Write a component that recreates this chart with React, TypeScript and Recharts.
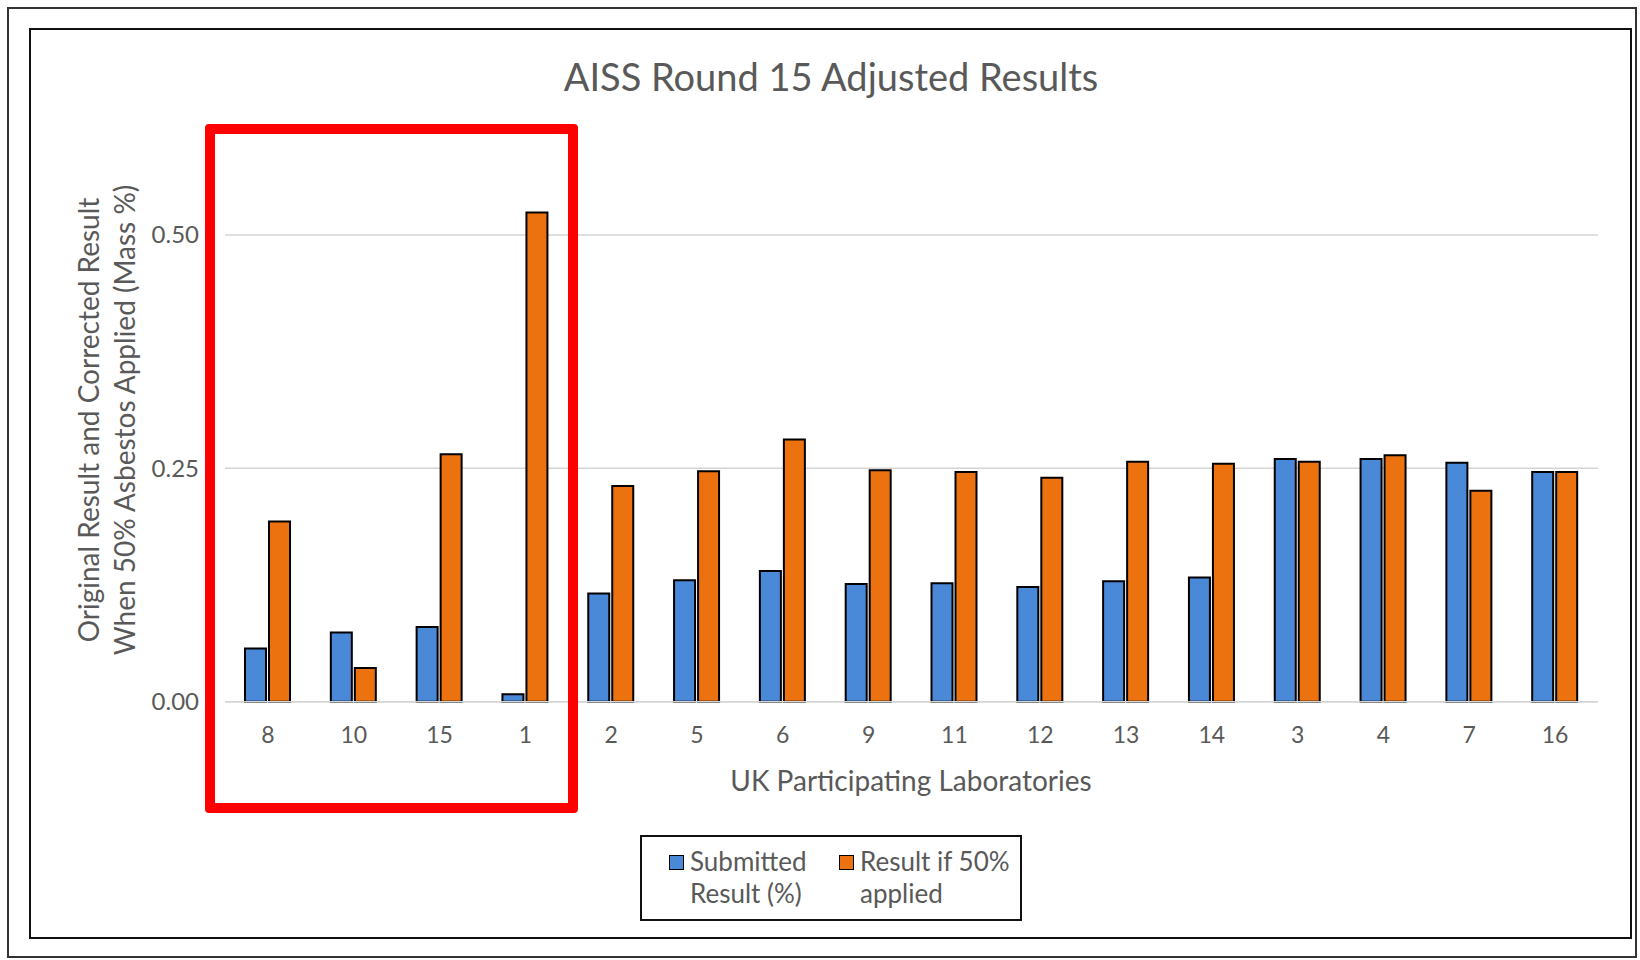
import { Bar, BarChart, CartesianGrid, XAxis, YAxis } from 'recharts';

const labs = ['8', '10', '15', '1', '2', '5', '6', '9', '11', '12', '13', '14', '3', '4', '7', '16'];
const submitted = [0.057, 0.074, 0.08, 0.008, 0.116, 0.13, 0.14, 0.126, 0.127, 0.123, 0.129, 0.133, 0.26, 0.26, 0.256, 0.246];
const adjusted = [0.193, 0.036, 0.265, 0.524, 0.231, 0.247, 0.281, 0.248, 0.246, 0.24, 0.257, 0.255, 0.257, 0.264, 0.226, 0.246];
const yTicks = [0, 0.25, 0.5];

const BLUE = '#4a88d8';
const ORANGE = '#ec7210';
const TEXT = '#595959';
const FONT = 'Lato, "Open Sans", sans-serif';

const data = labs.map((lab, i) => ({ lab, submitted: submitted[i], adjusted: adjusted[i] }));

function LegendItem({ color, lines, left }: { color: string; lines: string[]; left: number }) {
  return (
    <div style={{ position: 'absolute', left, top: 8, display: 'flex', alignItems: 'flex-start' }}>
      <div
        style={{
          width: 13,
          height: 13,
          background: color,
          border: '1.5px solid #000',
          marginTop: 10,
          marginRight: 6,
        }}
      />
      <div style={{ fontSize: 26, lineHeight: '32px', color: TEXT }}>
        {lines.map((l) => (
          <div key={l}>{l}</div>
        ))}
      </div>
    </div>
  );
}

export default function App() {
  return (
    <div
      style={{
        position: 'absolute',
        left: 0,
        top: 0,
        width: 1640,
        height: 960,
        background: '#fff',
        fontFamily: FONT,
        overflow: 'hidden',
      }}
    >
      {/* screenshot frame */}
      <div style={{ position: 'absolute', left: 7, top: 7, width: 1630, height: 951, border: '2px solid #333', boxSizing: 'border-box' }} />
      <div style={{ position: 'absolute', left: 29, top: 28, width: 1603, height: 911, border: '2.5px solid #111', boxSizing: 'border-box' }} />

      <div style={{ position: 'absolute', left: 0, top: 0 }}>
        <BarChart
          width={1640}
          height={960}
          data={data}
          margin={{ top: 141.6, right: 42, bottom: 138.3, left: 145 }}
          barGap={3}
          barSize={21}
        >
          <CartesianGrid vertical={false} horizontalValues={yTicks} stroke="#d4d4d4" strokeWidth={1.5} />
          <XAxis
            dataKey="lab"
            height={120}
            tickLine={false}
            axisLine={{ stroke: '#d4d4d4', strokeWidth: 1.5 }}
            tick={{ fill: TEXT, fontSize: 23, fontFamily: FONT }}
            tickMargin={19}
          />
          <YAxis
            width={80}
            domain={[0, 0.6]}
            ticks={yTicks}
            tickLine={false}
            axisLine={false}
            tick={{ fill: TEXT, fontSize: 24, fontFamily: FONT }}
            tickMargin={20}
            tickFormatter={(v: number) => v.toFixed(2)}
          />
          <Bar dataKey="submitted" fill={BLUE} stroke="#000" strokeWidth={2} isAnimationActive={false} />
          <Bar dataKey="adjusted" fill={ORANGE} stroke="#000" strokeWidth={2} isAnimationActive={false} />
        </BarChart>
      </div>

      {/* title */}
      <div style={{ position: 'absolute', left: 0, width: 1662, top: 53, textAlign: 'center', fontSize: 38, color: TEXT }}>
        AISS Round 15 Adjusted Results
      </div>

      {/* x axis title */}
      <div style={{ position: 'absolute', left: 0, width: 1822, top: 763, textAlign: 'center', fontSize: 28, color: TEXT }}>
        UK Participating Laboratories
      </div>

      {/* y axis title */}
      <svg style={{ position: 'absolute', left: 0, top: 0 }} width={200} height={960}>
        <text transform="translate(99,420) rotate(-90)" textAnchor="middle" fontSize={28} fill={TEXT} fontFamily={FONT}>
          Original Result and Corrected Result
        </text>
        <text transform="translate(135,420) rotate(-90)" textAnchor="middle" fontSize={28} fill={TEXT} fontFamily={FONT}>
          When 50% Asbestos Applied (Mass %)
        </text>
      </svg>

      {/* legend */}
      <div style={{ position: 'absolute', left: 640, top: 835, width: 382, height: 86, border: '2.5px solid #111', boxSizing: 'border-box', background: '#fff' }}>
        <LegendItem color={BLUE} lines={['Submitted', 'Result (%)']} left={27} />
        <LegendItem color={ORANGE} lines={['Result if 50%', 'applied']} left={197} />
      </div>

      {/* highlight annotation */}
      <div
        style={{
          position: 'absolute',
          left: 205,
          top: 124,
          width: 373,
          height: 689,
          border: '10px solid #ff0000',
          borderRadius: 4,
          boxSizing: 'border-box',
        }}
      />
    </div>
  );
}
